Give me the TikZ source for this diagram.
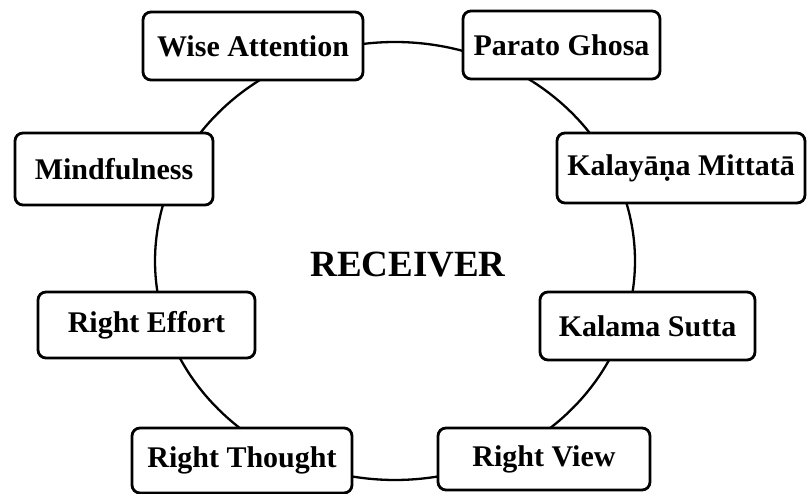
\documentclass[tikz,border=0pt]{standalone}
\usepackage{fontspec}
\setmainfont{Liberation Serif}
\usetikzlibrary{calc}
\begin{document}
\begin{tikzpicture}[x=1pt,y=1pt,
  stagebox/.style={draw, line width=2.8pt, rounded corners=8pt, fill=white,
    inner sep=0pt, font=\bfseries\fontsize{30}{34}\selectfont},
  ring/.style={line width=2.3pt},
  centretext/.style={font=\bfseries\fontsize{37}{42}\selectfont, inner sep=0pt}]
\useasboundingbox (0,0) rectangle (810,494);
\coordinate (c) at (395,233);
% points on the ring, one inside each box
\foreach \n/\a in {wa/121.1, pg/54.9, kal/19.6, ks/-15.8, rv/-55.6, rt/-125, re/-164.2, mi/160.3}
  \coordinate (p\n) at ($(c)+(\a:240 and 219)$);
% ring segments from box to box
\draw[ring] (pwa) arc[start angle=121.1, end angle=54.9, x radius=240, y radius=219];
\draw[ring] (ppg) arc[start angle=54.9, end angle=19.6, x radius=240, y radius=219];
\draw[ring] (pkal) arc[start angle=19.6, end angle=-15.8, x radius=240, y radius=219];
\draw[ring] (pks) arc[start angle=-15.8, end angle=-55.6, x radius=240, y radius=219];
\draw[ring] (prv) arc[start angle=-55.6, end angle=-125, x radius=240, y radius=219];
\draw[ring] (prt) arc[start angle=-125, end angle=-164.2, x radius=240, y radius=219];
\draw[ring] (pre) arc[start angle=195.8, end angle=160.3, x radius=240, y radius=219];
\draw[ring] (pmi) arc[start angle=160.3, end angle=121.1, x radius=240, y radius=219];
% boxes
\node[stagebox, minimum width=220, minimum height=68] (wa) at (253,448) {Wise Attention};
\node[stagebox, minimum width=197, minimum height=68] (pg) at (561.5,449) {Parato Ghosa};
\node[stagebox, minimum width=248, minimum height=70] (kal) at (681,326) {Kalayāṇa Mittatā};
\node[stagebox, minimum width=215, minimum height=68] (ks) at (647.5,168) {Kalama Sutta};
\node[stagebox, minimum width=212, minimum height=62] (rv) at (544,35) {Right View};
\node[stagebox, minimum width=220, minimum height=65] (rt) at (242,33.5) {Right Thought};
\node[stagebox, minimum width=217, minimum height=66] (re) at (146.5,169) {Right Effort};
\node[stagebox, minimum width=198, minimum height=72] (mi) at (114,325) {Mindfulness};
\node[centretext, anchor=base] (rc) at (408,217) {RECEIVER};
\end{tikzpicture}
\end{document}
